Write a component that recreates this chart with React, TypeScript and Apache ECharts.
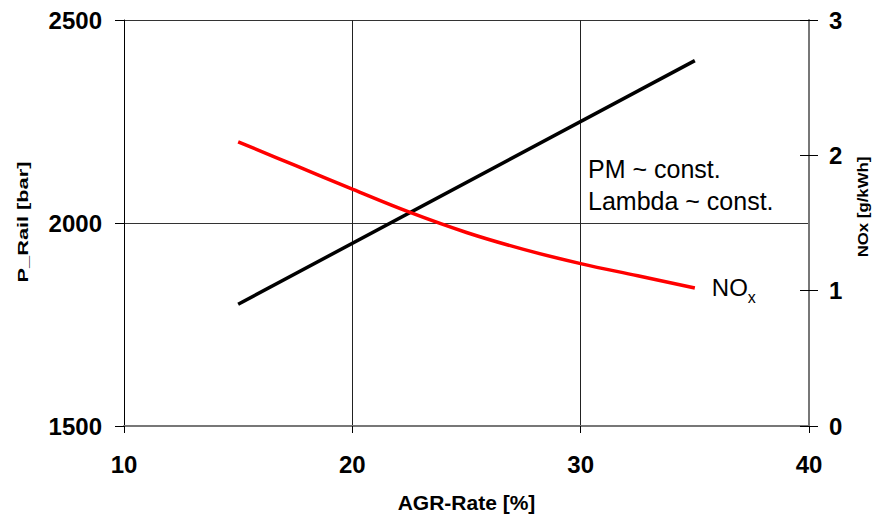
import React, { useEffect, useRef } from "react";
import * as echarts from "echarts";

// AGR rate [%] sample points
const agrRail: number[] = [15, 35];
// rail pressure [bar] at those points
const pRail: number[] = [1800, 2400];

const agrNox: number[] = [15, 17.5, 20, 22.5, 25, 27.5, 30, 32.5, 35];
// NOx emissions [g/kWh]
const nox: number[] = [2.1, 1.925, 1.75, 1.58, 1.43, 1.305, 1.2, 1.11, 1.02];

const xTicks = { min: 10, max: 40, interval: 10 };
const leftTicks = { min: 1500, max: 2500, interval: 500 };
const rightTicks = { min: 0, max: 3, interval: 1 };

const FONT = '"Liberation Sans", Arial, sans-serif';

export default function App() {
  const ref = useRef<HTMLDivElement>(null);

  useEffect(() => {
    if (!ref.current) return;
    const chart = echarts.init(ref.current, undefined, { renderer: "svg" });

    const tickLabel = {
      fontFamily: FONT,
      fontWeight: "bold" as const,
      fontSize: 24,
      color: "#000",
      formatter: (v: number) => String(v),
    };

    chart.setOption({
      animation: false,
      backgroundColor: "#fff",
      grid: { left: 124, top: 20, right: 68, bottom: 92, containLabel: false },
      xAxis: {
        type: "value",
        ...xTicks,
        name: "AGR-Rate [%]",
        nameLocation: "middle",
        nameGap: 66,
        nameTextStyle: { fontFamily: FONT, fontWeight: "bold", fontSize: 21, color: "#000" },
        axisLine: { show: true, onZero: false, lineStyle: { color: "#777", width: 2 } },
        axisTick: { show: true, length: 7, lineStyle: { color: "#000", width: 1 } },
        axisLabel: { ...tickLabel, margin: 26 },
        splitLine: { show: true, lineStyle: { color: "#222", width: 1 } },
      },
      yAxis: [
        {
          type: "value",
          position: "left",
          ...leftTicks,
          axisLine: { show: true, lineStyle: { color: "#000", width: 1 } },
          axisTick: { show: true, length: 9, lineStyle: { color: "#000", width: 1 } },
          axisLabel: { ...tickLabel, margin: 22 },
          splitLine: { show: true, lineStyle: { color: "#333", width: 1 } },
        },
        {
          type: "value",
          position: "right",
          ...rightTicks,
          axisLine: { show: true, lineStyle: { color: "#777", width: 2 } },
          axisTick: { show: true, length: 9, lineStyle: { color: "#000", width: 1 } },
          axisLabel: { ...tickLabel, margin: 20 },
          splitLine: { show: false },
        },
        {
          // inner half of the right-hand ticks
          type: "value",
          position: "right",
          ...rightTicks,
          axisLine: { show: false },
          axisTick: { show: true, inside: true, length: 9, lineStyle: { color: "#000", width: 1 } },
          axisLabel: { show: false },
          splitLine: { show: false },
        },
      ],
      series: [
        {
          type: "line",
          name: "P_Rail",
          yAxisIndex: 0,
          data: agrRail.map((x, i) => [x, pRail[i]]),
          showSymbol: false,
          lineStyle: { color: "#000", width: 3.5 },
          z: 3,
        },
        {
          type: "line",
          name: "NOx",
          yAxisIndex: 1,
          data: agrNox.map((x, i) => [x, nox[i]]),
          smooth: 0.4,
          showSymbol: false,
          lineStyle: { color: "#ff0000", width: 3.5 },
          z: 4,
          endLabel: {
            show: true,
            distance: 17,
            formatter: "{n|NO}{s|x}",
            rich: {
              n: { fontFamily: FONT, fontSize: 24, color: "#000", verticalAlign: "bottom" },
              s: { fontFamily: FONT, fontSize: 16, color: "#000", verticalAlign: "bottom", padding: [0, 0, -6, 0] },
            },
          },
        },
      ],
      graphic: [
        {
          type: "text",
          left: 588,
          top: 153,
          style: {
            text: "PM ~ const.\nLambda ~ const.",
            font: `25px ${FONT}`,
            lineHeight: 32,
            fill: "#000",
          },
        },
        {
          type: "text",
          x: 23,
          y: 222,
          rotation: Math.PI / 2,
          scaleX: 1.45,
          style: {
            text: "P_Rail [bar]",
            font: `bold 15px ${FONT}`,
            align: "center",
            verticalAlign: "middle",
            fill: "#000",
          },
        },
        {
          type: "text",
          x: 863,
          y: 207,
          rotation: Math.PI / 2,
          scaleX: 1.2,
          style: {
            text: "NOx [g/kWh]",
            font: `bold 14px ${FONT}`,
            align: "center",
            verticalAlign: "middle",
            fill: "#000",
          },
        },
      ],
    });

    return () => chart.dispose();
  }, []);

  return (
    <div
      ref={ref}
      style={{ position: "fixed", left: 0, top: 0, width: 877, height: 518, background: "#fff" }}
    />
  );
}
